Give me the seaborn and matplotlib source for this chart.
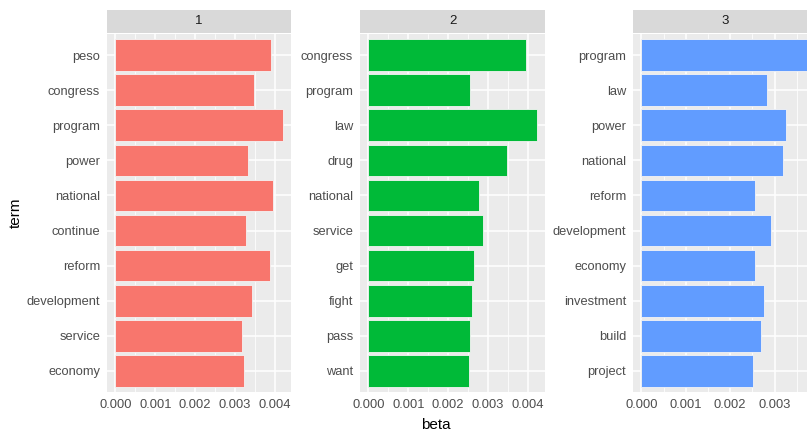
import seaborn as sb
import matplotlib.pyplot as plt
import pandas
from matplotlib.ticker import MultipleLocator, FormatStrFormatter

W, H = 807, 434

# terms listed top to bottom, as they appear in each facet
topic1_terms = ["peso", "congress", "program", "power", "national",
                "continue", "reform", "development", "service", "economy"]
topic1_beta = [0.00391, 0.00347, 0.00419, 0.00333, 0.00396,
               0.00328, 0.00388, 0.00342, 0.00316, 0.00321]

topic2_terms = ["congress", "program", "law", "drug", "national",
                "service", "get", "fight", "pass", "want"]
topic2_beta = [0.00396, 0.00256, 0.00422, 0.00349, 0.00277,
               0.00287, 0.00264, 0.00261, 0.00256, 0.00253]

topic3_terms = ["program", "law", "power", "national", "reform",
                "development", "economy", "investment", "build", "project"]
topic3_beta = [0.00379, 0.00282, 0.00326, 0.00319, 0.00256,
               0.00291, 0.00256, 0.00277, 0.00270, 0.00251]

topics = ["1", "2", "3"]
topic_colors = ["#F8766D", "#00BA38", "#619CFF"]

frames = []
for topic, terms, beta in zip(topics,
                              [topic1_terms, topic2_terms, topic3_terms],
                              [topic1_beta, topic2_beta, topic3_beta]):
    frames.append(pandas.DataFrame({"topic": topic, "term": terms, "beta": beta}))
df = pandas.concat(frames, ignore_index=True)

sb.set_style("darkgrid", {"axes.facecolor": "#EBEBEB", "grid.color": "white"})
plt.rcParams["font.family"] = ["Liberation Sans", "DejaVu Sans"]

fig = plt.figure(figsize=(W / 100, H / 100), dpi=100)

# panel boxes in pixels: left, right; plot area top/bottom and strip top
panel_x = [(107, 291), (360, 545), (633, 818)]
plot_top, plot_bottom, strip_top = 34, 392, 10


def px_rect(x0, x1, y0, y1):
    return [x0 / W, 1 - y1 / H, (x1 - x0) / W, (y1 - y0) / H]


for (x0, x1), topic, color in zip(panel_x, topics, topic_colors):
    sub = df[df["topic"] == topic]
    ax = fig.add_axes(px_rect(x0, x1, plot_top, plot_bottom))
    sb.barplot(data=sub, x="beta", y="term", orient="h", color=color,
               width=0.9, saturation=1, linewidth=0.6, edgecolor="#F4F4F4",
               ax=ax)
    top = sub["beta"].max()
    ax.set_xlim(-0.05 * top, 1.05 * top)
    ax.set_ylim(len(sub) - 0.4, -0.6)
    ax.xaxis.set_major_locator(MultipleLocator(0.001))
    ax.xaxis.set_minor_locator(MultipleLocator(0.0005))
    ax.xaxis.set_major_formatter(FormatStrFormatter("%.3f"))
    ax.grid(which="major", axis="both", color="white", linewidth=1.1)
    ax.grid(which="minor", axis="x", color="white", linewidth=0.55)
    ax.set_axisbelow(True)
    ax.tick_params(which="major", length=3, width=0.8, color="#333333",
                   labelcolor="#4D4D4D", labelsize=9.3, pad=2)
    ax.tick_params(which="minor", length=0)
    for s in ax.spines.values():
        s.set_visible(False)
    ax.set_xlabel("")
    ax.set_ylabel("")

    strip = fig.add_axes(px_rect(x0, x1, strip_top, plot_top - 1))
    strip.set_facecolor("#D9D9D9")
    strip.set_xticks([])
    strip.set_yticks([])
    strip.grid(False)
    for s in strip.spines.values():
        s.set_visible(False)
    strip.text(0.5, 0.5, topic, ha="center", va="center",
               fontsize=9.5, color="#1A1A1A", transform=strip.transAxes)

fig.text(436 / W, 1 - 425 / H, "beta", ha="center", va="center",
         fontsize=11, color="black")
fig.text(16 / W, 1 - 213 / H, "term", ha="center", va="center",
         rotation=90, fontsize=11, color="black")

plt.savefig("out.png", dpi=100)
